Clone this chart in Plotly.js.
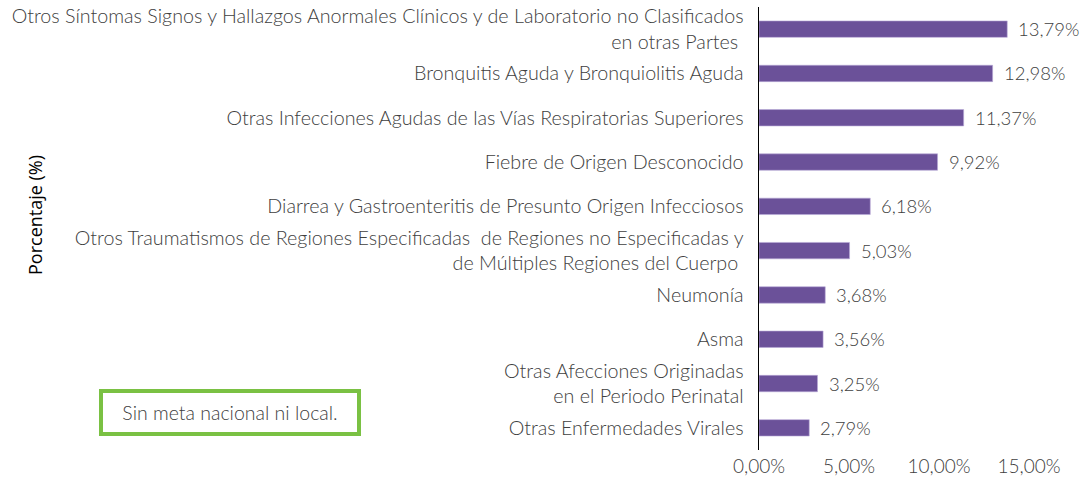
<!DOCTYPE html>
<html><head><meta charset="utf-8">
<script src="https://cdn.plot.ly/plotly-3.0.1.min.js"></script>
<style>html,body{margin:0;padding:0;background:#fff}#chart{width:1080px;height:479px}</style>
</head><body><div id="chart"></div>
<script>
const categories = [
  "Otros Síntomas Signos y Hallazgos Anormales Clínicos y de Laboratorio no Clasificados<br>en otras Partes ",
  "Bronquitis Aguda y Bronquiolitis Aguda",
  "Otras Infecciones Agudas de las Vías Respiratorias Superiores",
  "Fiebre de Origen Desconocido",
  "Diarrea y Gastroenteritis de Presunto Origen Infecciosos",
  "Otros Traumatismos de Regiones Especificadas  de Regiones no Especificadas y<br>de Múltiples Regiones del Cuerpo ",
  "Neumonía",
  "Asma",
  "Otras Afecciones Originadas<br>en el Periodo Perinatal",
  "Otras Enfermedades Virales"
];
const values = [13.79, 12.98, 11.37, 9.92, 6.18, 5.03, 3.68, 3.56, 3.25, 2.79];
const tickValues = [0, 5, 10, 15];
const tickLabels = ["0,00%", "5,00%", "10,00%", "15,00%"];
const noteText = "Sin meta nacional ni local.";
const yTitle = "Porcentaje (%)";

const W = 1080, Hh = 479;
const L = 759, R = 30, T = 7, B = 29;
const PW = W - L - R, PH = Hh - T - B;
const pxX = p => (p - L) / PW;
const pxY = p => 1 - (p - T) / PH;
const FONT = "Lato, sans-serif";
const fmt = v => v.toFixed(2).replace('.', ',') + '%';

const trace = {
  type: 'bar', orientation: 'h',
  x: values, y: categories,
  marker: {color: '#6b5199', line: {color: '#b9a9d6', width: 0.6}},
  width: 0.37,
  hoverinfo: 'none'
};

const annotations = values.map((v, i) => ({
  x: v, y: categories[i], xref: 'x', yref: 'y',
  text: fmt(v), showarrow: false, xanchor: 'left', xshift: 9,
  font: {family: FONT, size: 18.5, weight: 300, color: '#404040'}
}));
annotations.push({
  xref: 'paper', yref: 'paper', x: pxX(21), y: pxY(215),
  text: yTitle, textangle: -90, showarrow: false,
  font: {family: 'Open Sans, sans-serif', size: 18, weight: 400, color: '#000'}
});
annotations.push({
  xref: 'paper', yref: 'paper', x: pxX(99), y: pxY(389),
  xanchor: 'left', yanchor: 'top',
  text: noteText, showarrow: false, align: 'center',
  width: 246, height: 31, borderwidth: 4, bordercolor: '#7ac143', borderpad: 4,
  bgcolor: '#fff',
  font: {family: FONT, size: 19.5, weight: 300, color: '#404040'}
});

const layout = {
  width: W, height: Hh,
  margin: {l: L, r: R, t: T, b: B, pad: 0},
  paper_bgcolor: '#fff', plot_bgcolor: '#fff',
  showlegend: false,
  xaxis: {
    range: [0, PW / 18], tickvals: tickValues, ticktext: tickLabels,
    showgrid: false, zeroline: false, showline: false, ticks: '',
    ticklabelstandoff: 3,
    tickfont: {family: FONT, size: 19, weight: 300, color: '#404040'}, fixedrange: true
  },
  yaxis: {
    autorange: 'reversed', showgrid: false, zeroline: false,
    showline: true, linecolor: '#000', linewidth: 1.5, ticks: '',
    ticklabelstandoff: 10,
    tickfont: {family: FONT, size: 19.7, weight: 300, color: '#404040'}, automargin: false, fixedrange: true
  },
  annotations: annotations
};

Plotly.newPlot('chart', [trace], layout, {displayModeBar: false, staticPlot: true});
</script></body></html>
